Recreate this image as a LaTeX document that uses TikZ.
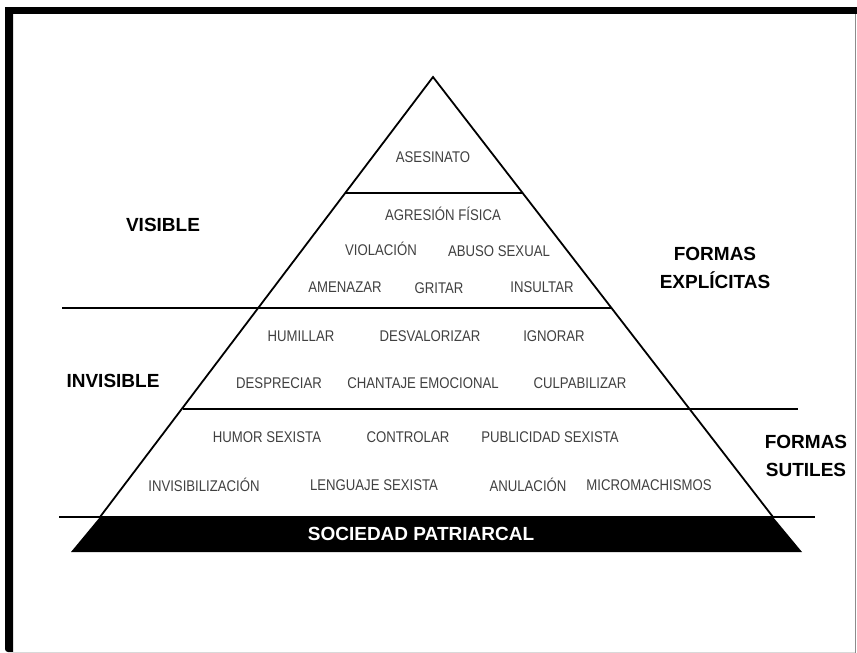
\documentclass[tikz,border=0pt]{standalone}
\usepackage{fontspec}
\setmainfont{Liberation Sans}
\newfontfamily\narrowfont[FakeStretch=0.85]{Liberation Sans}
\begin{document}
\begin{tikzpicture}[x=1pt,y=-1pt,
  lbl/.style={font=\narrowfont\fontsize{15.5}{17}\selectfont, text=black!75, inner sep=0pt},
  bigl/.style={font=\bfseries\fontsize{19}{28.5}\selectfont, text=black, inner sep=0pt, align=center},
  hline/.style={line width=2.2pt, black},
  side/.style={line width=1.8pt, black}]
\useasboundingbox (0,0) rectangle (857,653);
\fill[white] (0,0) rectangle (857,653);
% frame
\fill[black] (5,7) rectangle (857,14);
\fill[black] (5,7) -- (13,7) -- (13,652) -- (9,652) [rounded corners=3pt] -- (5,652) -- cycle;
\draw[black!45, line width=1pt] (855,14) -- (855,653);
\draw[black!15, line width=1pt] (13,652) -- (855,652);
% pyramid
\coordinate (apex) at (433,77);
\coordinate (bl) at (100,517);
\coordinate (br) at (773,517);
\fill[black] (bl) -- (br) -- (802,552) -- (71,552) -- cycle;
\draw[side, line join=miter] (bl) -- (apex) -- (br);
\draw[hline] (346,193) -- (523,193);
\draw[hline] (62,308) -- (612,308);
\draw[hline] (183,409) -- (798,409);
\draw[hline] (59,517) -- (815,517);
% level texts
\node[lbl] (asesinato) at (433,157) {ASESINATO};
\node[lbl] (agresion) at (443,214) {AGRESIÓN FÍSICA};
\node[lbl] (violacion) at (381,249) {VIOLACIÓN};
\node[lbl] (abuso) at (499,251) {ABUSO SEXUAL};
\node[lbl] (amenazar) at (345,287) {AMENAZAR};
\node[lbl] (gritar) at (439,288) {GRITAR};
\node[lbl] (insultar) at (542,287) {INSULTAR};
\node[lbl] (humillar) at (301,336) {HUMILLAR};
\node[lbl] (desval) at (430,336) {DESVALORIZAR};
\node[lbl] (ignorar) at (554,336) {IGNORAR};
\node[lbl] (despreciar) at (279,383) {DESPRECIAR};
\node[lbl] (chantaje) at (423,383) {CHANTAJE EMOCIONAL};
\node[lbl] (culpa) at (580,383) {CULPABILIZAR};
\node[lbl] (humor) at (267,437) {HUMOR SEXISTA};
\node[lbl] (controlar) at (408,437) {CONTROLAR};
\node[lbl] (publicidad) at (550,437) {PUBLICIDAD SEXISTA};
\node[lbl] (invisib) at (204,485) {INVISIBILIZACIÓN};
\node[lbl] (lenguaje) at (374,485) {LENGUAJE SEXISTA};
\node[lbl] (anulacion) at (528,485) {ANULACIÓN};
\node[lbl] (micro) at (649,485) {MICROMACHISMOS};
\node[bigl, text=white] (sociedad) at (421,534) {SOCIEDAD PATRIARCAL};
% side labels
\node[bigl] (visible) at (163,225) {VISIBLE};
\node[bigl] (invisible) at (113,381) {INVISIBLE};
\node[bigl] (explicitas) at (715,268) {FORMAS\\EXPLÍCITAS};
\node[bigl] (sutiles) at (806,456) {FORMAS\\SUTILES};
\end{tikzpicture}
\end{document}
